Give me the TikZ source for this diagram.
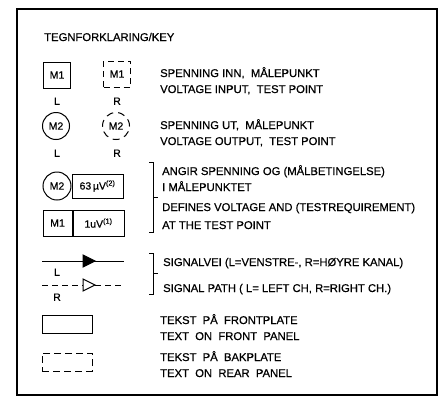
\documentclass[tikz,border=0pt]{standalone}
\usepackage{fontspec}
\setmainfont{Liberation Sans}
\newfontfamily\lblfont[FakeBold=0.6]{Liberation Sans}
\begin{document}
\begin{tikzpicture}[x=1bp,y=-1bp,
  lbl/.style={font=\lblfont\fontsize{11.3}{13}\selectfont, anchor=west, inner sep=0pt, text height=8bp, text depth=0pt},
  sym/.style={draw, line width=1bp, inner sep=0pt, font=\lblfont\fontsize{10.5}{12}\selectfont},
  dsh/.style={dash pattern=on 6bp off 4bp},
  dshc/.style={dash pattern=on 7bp off 5bp},
  chan/.style={font=\lblfont\fontsize{10.5}{12}\selectfont, inner sep=0pt, text height=7.5bp, text depth=0pt},
  brk/.style={line width=0.9bp},
  sig/.style={line width=1bp},
  tri/.style={line width=1bp, line join=miter}]
\useasboundingbox (0,0) rectangle (445,405);
\draw[line width=1.1bp] (17,9) rectangle (437,395);
% title
\node[lbl] (title) at (44,37) {TEGNFORKLARING/KEY};
% row 1
\node[sym, minimum width=27bp, minimum height=26bp] (m1l) at (57,75) {M1};
\node[sym, dsh, minimum width=27bp, minimum height=26bp] (m1r) at (117,74) {M1};
\node[chan] (l1) at (57,101) {L};
\node[chan] (r1) at (117,101) {R};
\node[lbl] (t1a) at (160,73) {SPENNING INN,\ \ MÅLEPUNKT};
\node[lbl] (t1b) at (160,89) {VOLTAGE INPUT,\ \ TEST POINT};
% row 2
\node[sym, circle, minimum size=27bp] (m2l) at (56,126) {M2};
\node[sym, circle, dshc, minimum size=27bp] (m2r) at (116,126) {M2};
\node[chan] (l2) at (57,153) {L};
\node[chan] (r2) at (117,153) {R};
\node[lbl] (t2a) at (160,125) {SPENNING UT,\ \ MÅLEPUNKT};
\node[lbl] (t2b) at (160,141) {VOLTAGE OUTPUT,\ \ TEST POINT};
% row 3
\node[sym, circle, minimum size=28bp] (m2c) at (57,186) {M2};
\node[sym, anchor=west, minimum width=51bp, minimum height=24bp] (v63) at (m2c.east) {63\,µV\textsuperscript{(2)}};
% row 4
\node[sym, minimum width=29bp, minimum height=26bp] (m1c) at (57.5,223) {M1};
\node[sym, anchor=west, minimum width=51bp, minimum height=26bp] (v1) at (m1c.east) {1uV\textsuperscript{(1)}};
% bracket 1
\coordinate (b1t) at (153,162);
\coordinate (b1b) at (153,232);
\coordinate (b1m) at (153,197);
\draw[brk] ([xshift=-4bp]b1t) -- (b1t) -- (b1b) -- ([xshift=-4bp]b1b);
\draw[brk] (b1m) -- ([xshift=5bp]b1m);
\node[lbl] (t3a) at (162,171) {ANGIR SPENNING OG (MÅLBETINGELSE)};
\node[lbl] (t3b) at (162,187) {I MÅLEPUNKTET};
\node[lbl] (t3c) at (162,207) {DEFINES VOLTAGE AND (TESTREQUIREMENT)};
\node[lbl] (t3d) at (162,225) {AT THE TEST POINT};
% signal paths
\coordinate (s1a) at (42,261);
\coordinate (s1b) at (124,261);
\draw[sig] (s1a) -- (s1b);
\coordinate (a1) at (83,261);
\draw[tri, fill=black] ([yshift=-6bp]a1) -- ([xshift=12bp]a1) -- ([yshift=6bp]a1) -- cycle;
\node[chan] (l3) at (57,272) {L};
\coordinate (s2a) at (42,285);
\coordinate (s2b) at (124,285);
\coordinate (a2) at (83,285);
\draw[sig, dash pattern=on 6bp off 4bp] (s2a) -- (a2);
\draw[sig, dash pattern=on 6bp off 4bp] ([xshift=12bp]a2) -- (s2b);
\draw[tri, fill=white] ([yshift=-6bp]a2) -- ([xshift=12bp]a2) -- ([yshift=6bp]a2) -- cycle;
\node[chan] (r3) at (57,297) {R};
% bracket 2
\coordinate (b2t) at (153,253);
\coordinate (b2b) at (153,294);
\coordinate (b2m) at (153,273);
\draw[brk] ([xshift=-4bp]b2t) -- (b2t) -- (b2b) -- ([xshift=-4bp]b2b);
\draw[brk] (b2m) -- ([xshift=5bp]b2m);
\node[lbl] (t4a) at (163,262) {SIGNALVEI (L=VENSTRE-, R=HØYRE KANAL)};
\node[lbl] (t4b) at (163,288) {SIGNAL PATH ( L= LEFT CH, R=RIGHT CH.)};
% panels
\node[draw, line width=1bp, minimum width=50bp, minimum height=18bp, inner sep=0pt] (front) at (67,324) {};
\node[lbl] (t5a) at (160,320) {TEKST\ \ PÅ\ \ FRONTPLATE};
\node[lbl] (t5b) at (160,336) {TEXT\ \ ON\ \ FRONT\ \ PANEL};
\node[draw, line width=1bp, dash pattern=on 7bp off 4bp, minimum width=50bp, minimum height=18bp, inner sep=0pt] (rear) at (67,362) {};
\node[lbl] (t6a) at (160,357) {TEKST\ \ PÅ\ \ BAKPLATE};
\node[lbl] (t6b) at (160,373) {TEXT\ \ ON\ \ REAR\ \ PANEL};
\end{tikzpicture}
\end{document}
